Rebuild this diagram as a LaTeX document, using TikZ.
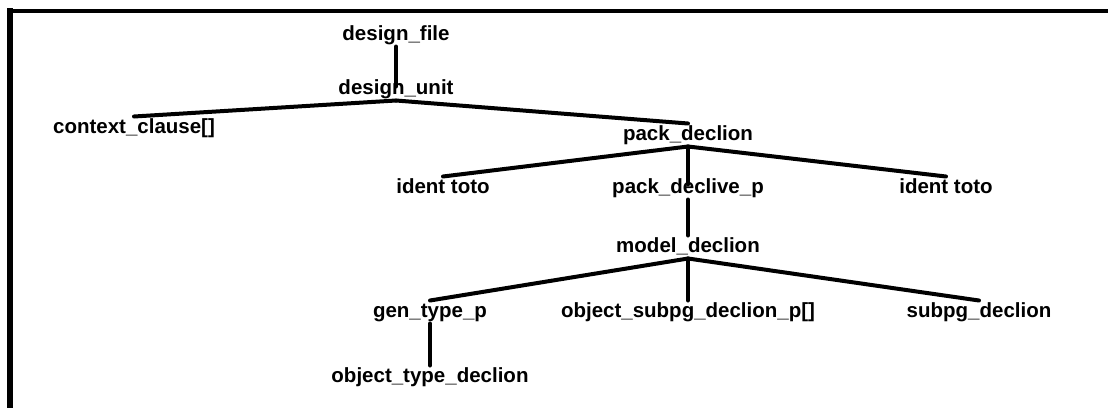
\documentclass[tikz,border=0pt]{standalone}
\usepackage{fontspec}
\setmainfont{Liberation Sans}
\usepackage{tikz}
\tikzstyle{NodeST}=[font=\bfseries\fontsize{20.5}{24}\selectfont,
inner xsep=0pt,inner ysep=3pt,text height=13.6pt,text depth=3pt]
\tikzstyle{Edge}=[draw=black,line width=4pt,line cap=round]
\tikzstyle{Frame}=[draw=black]

\begin{document}
\begin{tikzpicture}[x=1pt,y=1pt]
        \useasboundingbox(0,0)rectangle(1108,-408);
        \draw[Frame,line width=4pt](1108.00,-11.00)--(7.00,-11.00);
        \draw[Frame,line width=6pt](10.00,-8.00)--(10.00,-408.00);
        \node[NodeST](file)at(396.00,-35.00){design\_file};
        \node[NodeST](unit)at(396.00,-89.00){design\_unit};
        \node[NodeST](ctx)at(134.00,-128.00){context\_clause[]};
        \node[NodeST](pack)at(688.00,-135.00){pack\_declion};
        \node[NodeST](idl)at(443.00,-188.00){ident toto};
        \node[NodeST](pdp)at(688.00,-188.00){pack\_declive\_p};
        \node[NodeST](idr)at(946.00,-188.00){ident toto};
        \node[NodeST](model)at(688.00,-247.00){model\_declion};
        \node[NodeST](gen)at(430.00,-312.00){gen\_type\_p};
        \node[NodeST](osub)at(688.00,-312.00){object\_subpg\_declion\_p[]};
        \node[NodeST](subpg)at(979.00,-312.00){subpg\_declion};
        \node[NodeST](otype)at(430.00,-377.00){object\_type\_declion};
        \draw[Edge,shorten <=-9pt](unit.north)--(file.south);
        \draw[Edge](ctx.north)--(unit.south);
        \draw[Edge](pack.north)--(unit.south);
        \draw[Edge](idl.north)--(pack.south);
        \draw[Edge,shorten <=-8pt](pdp.north)--(pack.south);
        \draw[Edge](idr.north)--(pack.south);
        \draw[Edge](model.north)--(pdp.south);
        \draw[Edge](gen.north)--(model.south);
        \draw[Edge](osub.north)--(model.south);
        \draw[Edge](subpg.north)--(model.south);
        \draw[Edge](otype.north)--(gen.south);
    \end{tikzpicture}
\end{document}
